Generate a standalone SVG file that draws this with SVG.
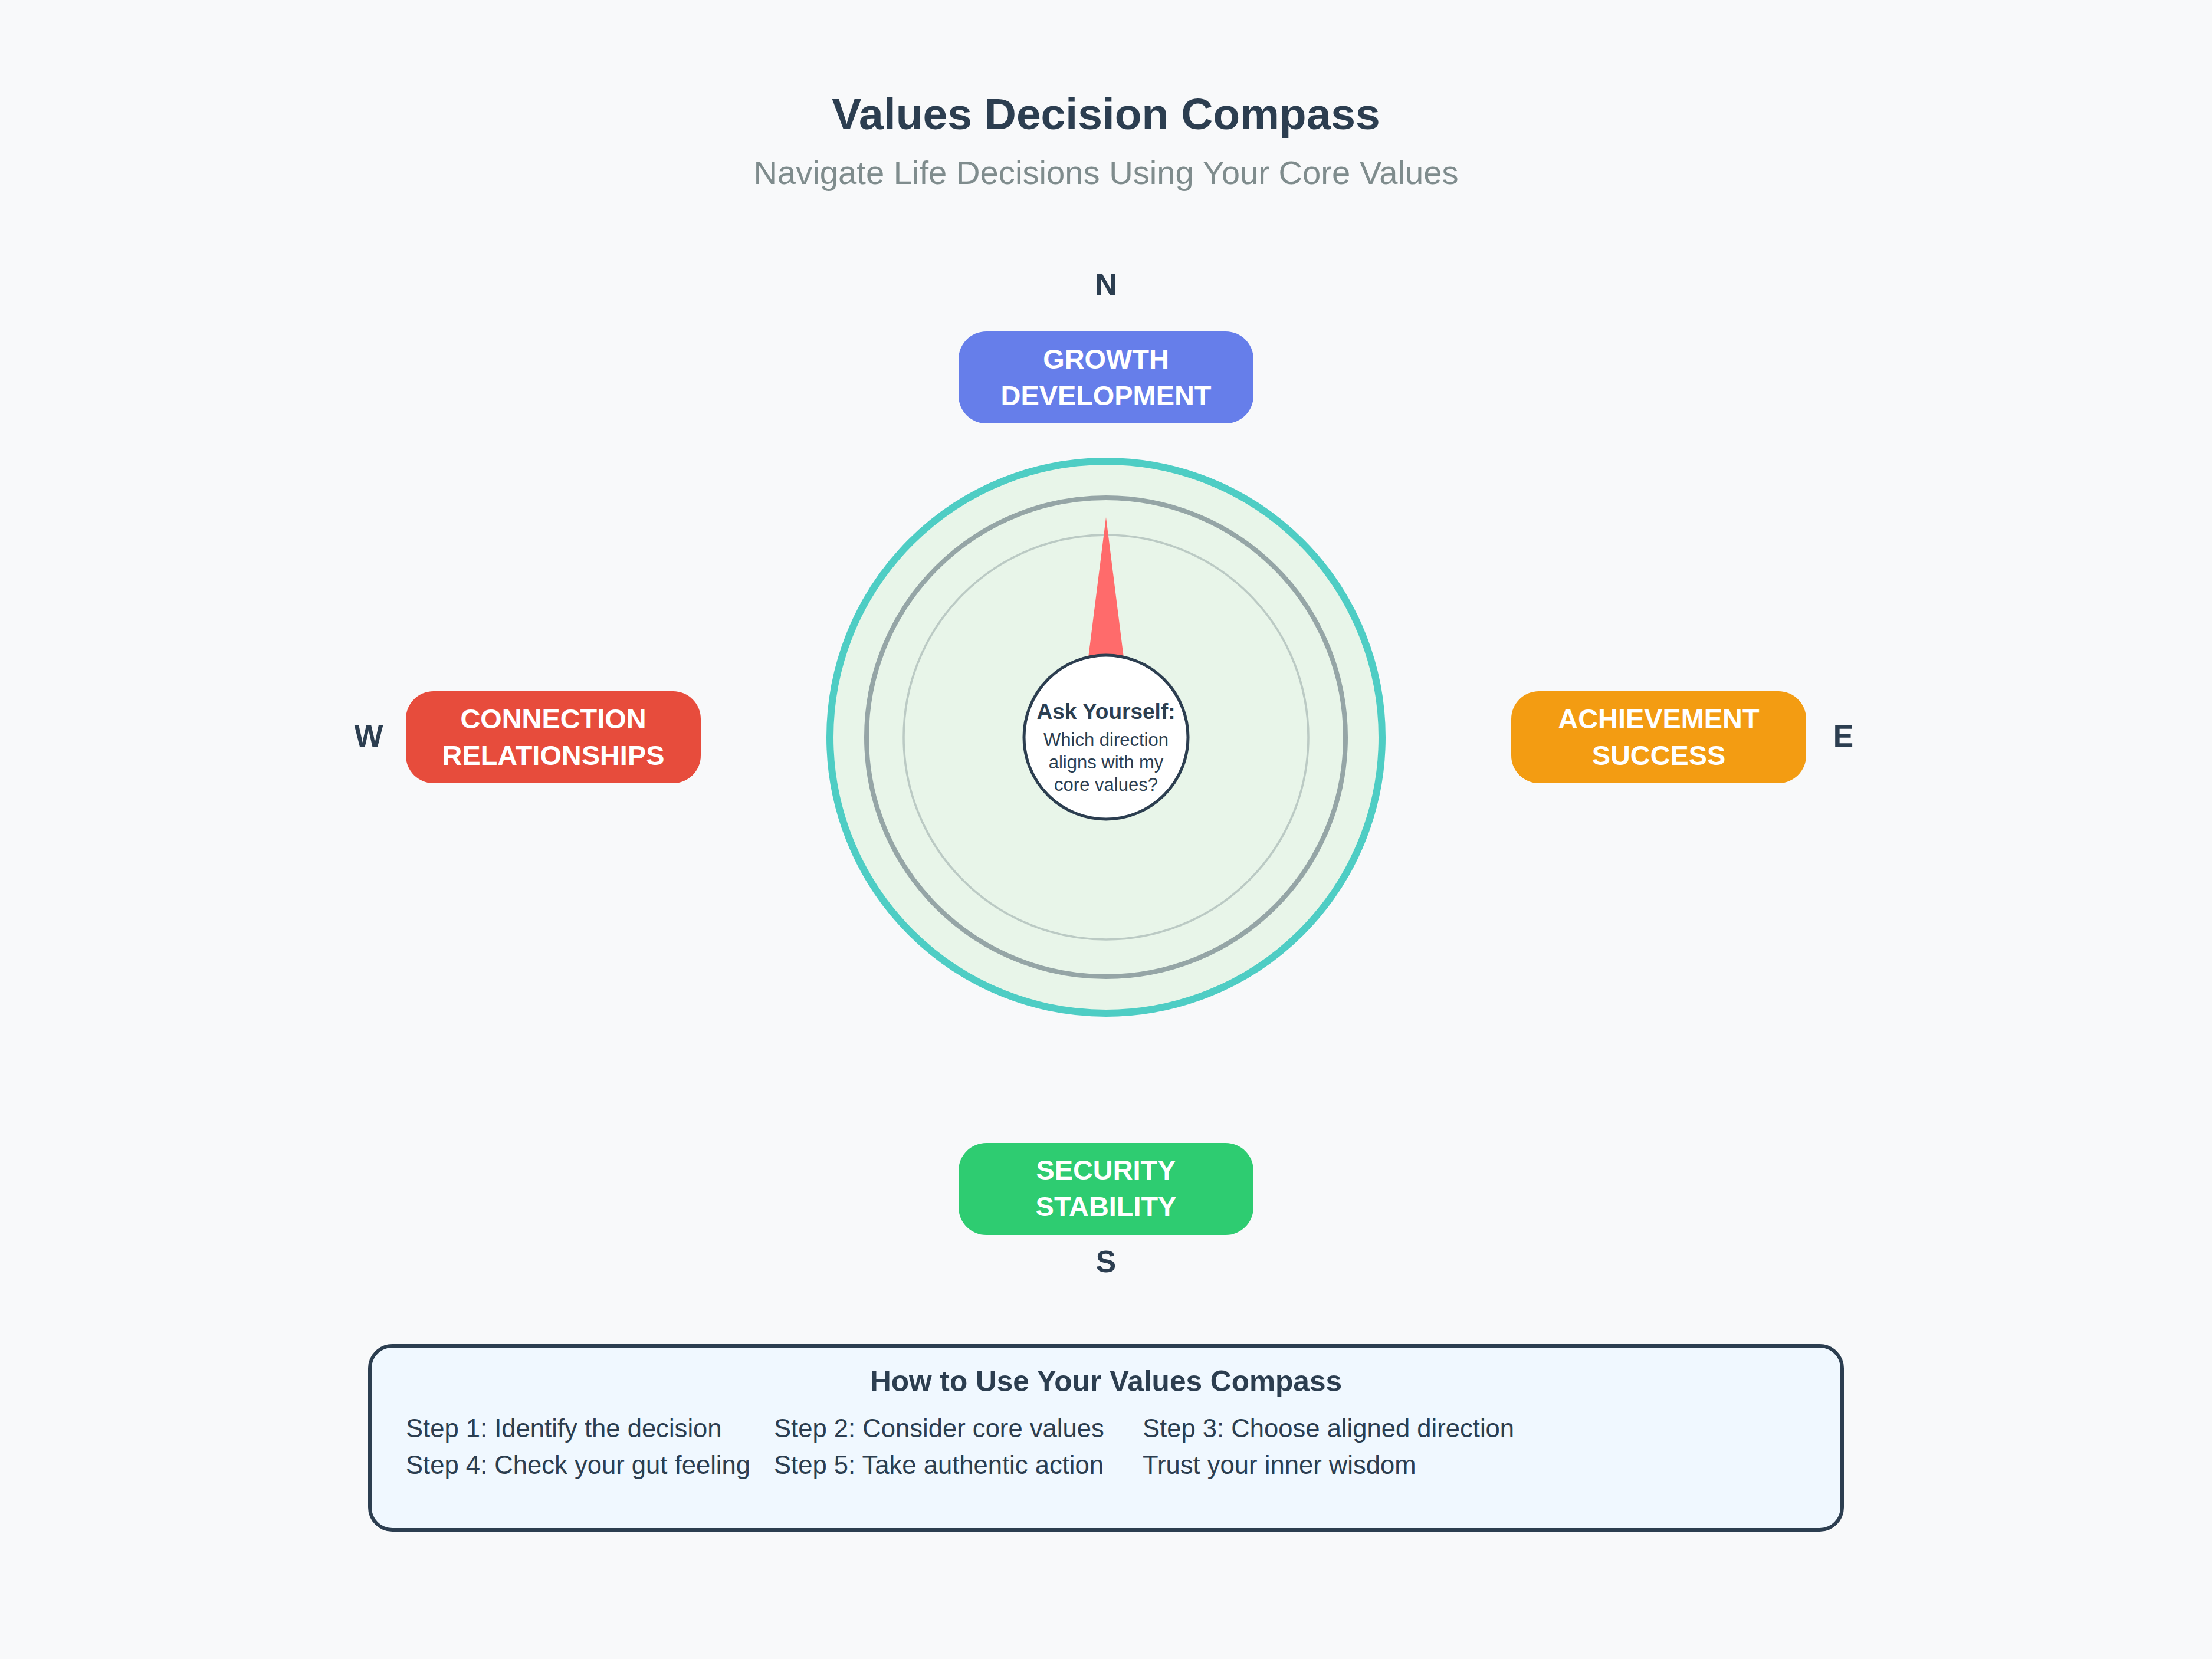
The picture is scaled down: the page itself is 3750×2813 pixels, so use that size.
<svg xmlns="http://www.w3.org/2000/svg" width="3750" height="2813" viewBox="0 0 3750 2813">
  <style>
    text { font-family: "Liberation Sans", Arial, sans-serif; }
    .title { font-size: 75px; font-weight: bold; fill: #2c3e50; text-anchor: middle; }
    .subtitle { font-size: 56.2px; fill: #7f8c8d; text-anchor: middle; }
    .dir { font-size: 51.5px; font-weight: bold; fill: #2c3e50; text-anchor: middle; }
    .value-box { stroke: none; }
    .value-text { font-size: 46.9px; font-weight: bold; fill: #ffffff; text-anchor: middle; }
    .ask { font-size: 37px; font-weight: bold; fill: #2c3e50; text-anchor: middle; }
    .question { font-size: 31px; fill: #2c3e50; text-anchor: middle; }
    .guide-head { font-size: 49.6px; font-weight: bold; fill: #2c3e50; text-anchor: middle; }
    .step { font-size: 43.6px; fill: #2c3e50; }
  </style>

  <!-- page background -->
  <rect x="0" y="0" width="3750" height="2813" fill="#f8f9fa"/>

  <!-- heading -->
  <g id="heading">
    <text class="title" x="1875" y="219">Values Decision Compass</text>
    <text class="subtitle" x="1875" y="312">Navigate Life Decisions Using Your Core Values</text>
  </g>

  <!-- compass dial -->
  <g id="compass">
    <circle cx="1875" cy="1250" r="468" fill="#e8f5e9" stroke="#4ecdc4" stroke-width="12"/>
    <circle cx="1875" cy="1250" r="406" fill="none" stroke="#95a5a6" stroke-width="8"/>
    <circle cx="1875" cy="1250" r="343" fill="none" stroke="#95a5a6" stroke-opacity="0.55" stroke-width="3.5"/>
    <polygon id="needle" points="1875,877 1828,1250 1922,1250" fill="#ff6b6b"/>
  </g>

  <!-- centre question -->
  <g id="center-question">
    <circle cx="1875" cy="1250" r="139" fill="#ffffff" stroke="#2c3e50" stroke-width="5"/>
    <text class="ask" x="1875" y="1219">Ask Yourself:</text>
    <text class="question" x="1875" y="1265">Which direction</text>
    <text class="question" x="1875" y="1303">aligns with my</text>
    <text class="question" x="1875" y="1341">core values?</text>
  </g>

  <!-- cardinal points -->
  <g id="cardinals">
    <text class="dir" x="1875" y="500">N</text>
    <text class="dir" x="1875" y="2157">S</text>
    <text class="dir" x="625" y="1266">W</text>
    <text class="dir" x="3125" y="1266">E</text>
  </g>

  <!-- value nodes -->
  <g id="node-growth">
    <rect class="value-box" x="1625" y="562" width="500" height="156" rx="47" fill="#667eea"/>
    <text class="value-text" x="1875" y="625">GROWTH</text>
    <text class="value-text" x="1875" y="687">DEVELOPMENT</text>
  </g>
  <g id="node-connection">
    <rect class="value-box" x="688" y="1172" width="500" height="156" rx="47" fill="#e74c3c"/>
    <text class="value-text" x="938" y="1235">CONNECTION</text>
    <text class="value-text" x="938" y="1297">RELATIONSHIPS</text>
  </g>
  <g id="node-achievement">
    <rect class="value-box" x="2562" y="1172" width="500" height="156" rx="47" fill="#f39c12"/>
    <text class="value-text" x="2812" y="1235">ACHIEVEMENT</text>
    <text class="value-text" x="2812" y="1297">SUCCESS</text>
  </g>
  <g id="node-security">
    <rect class="value-box" x="1625" y="1938" width="500" height="156" rx="47" fill="#2ecc71"/>
    <text class="value-text" x="1875" y="2000">SECURITY</text>
    <text class="value-text" x="1875" y="2062">STABILITY</text>
  </g>

  <!-- usage guide -->
  <g id="guide">
    <rect x="627" y="2282" width="2496" height="312" rx="38" fill="#f0f8ff" stroke="#2c3e50" stroke-width="6"/>
    <text class="guide-head" x="1875" y="2359">How to Use Your Values Compass</text>
    <text class="step" x="688" y="2437">Step 1: Identify the decision</text>
    <text class="step" x="1312" y="2437">Step 2: Consider core values</text>
    <text class="step" x="1937" y="2437">Step 3: Choose aligned direction</text>
    <text class="step" x="688" y="2499">Step 4: Check your gut feeling</text>
    <text class="step" x="1312" y="2499">Step 5: Take authentic action</text>
    <text class="step" x="1937" y="2499">Trust your inner wisdom</text>
  </g>
</svg>
